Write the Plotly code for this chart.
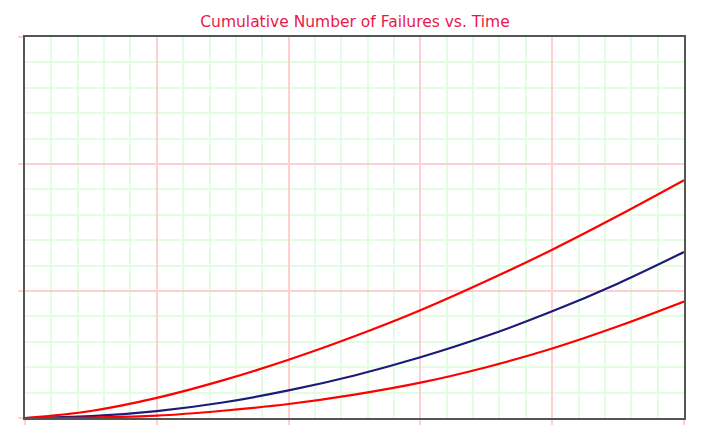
import plotly.graph_objects as go

# Data (x in grid units, y in grid units)
time = [0, 0.5, 1, 1.5, 2, 2.5, 3, 3.5, 4, 4.5, 5]
upper_bound = [0, 0.055, 0.158, 0.296, 0.458, 0.643, 0.848, 1.078, 1.325, 1.592, 1.872]
expected = [0, 0.014, 0.054, 0.122, 0.217, 0.335, 0.478, 0.645, 0.840, 1.060, 1.307]
lower_bound = [0, 0.004, 0.018, 0.057, 0.110, 0.184, 0.278, 0.400, 0.547, 0.722, 0.917]

title_text = "Cumulative Number of Failures vs. Time"

fig = go.Figure()
fig.add_trace(go.Scatter(x=time, y=expected, mode="lines",
                         line=dict(color="#1c1c78", width=2.2, shape="spline"),
                         showlegend=False, hoverinfo="skip"))
fig.add_trace(go.Scatter(x=time, y=lower_bound, mode="lines",
                         line=dict(color="#ff0000", width=2.2, shape="spline"),
                         showlegend=False, hoverinfo="skip"))
fig.add_trace(go.Scatter(x=time, y=upper_bound, mode="lines",
                         line=dict(color="#ff0000", width=2.2, shape="spline"),
                         showlegend=False, hoverinfo="skip"))

major_grid = "#ffd0d0"
minor_grid = "#e3fde3"
axis_line = "#555555"

common = dict(
    showticklabels=False,
    showgrid=True, gridcolor=major_grid, gridwidth=1.5,
    ticks="outside", ticklen=5, tickcolor=major_grid, tickwidth=1.5,
    showline=True, linecolor=axis_line, linewidth=2, mirror=True,
    zeroline=False,
    minor=dict(showgrid=True, gridcolor=minor_grid, gridwidth=1.5),
    fixedrange=True,
)

fig.update_xaxes(range=[0, 5], dtick=1, tick0=0, **common)
fig.update_yaxes(range=[0, 3], dtick=1, tick0=0, **common)
fig.update_xaxes(minor=dict(dtick=0.2))
fig.update_yaxes(minor=dict(dtick=0.2))

fig.update_layout(
    width=710, height=430,
    margin=dict(l=17, r=34, t=29, b=20),
    paper_bgcolor="white", plot_bgcolor="white",
    title=dict(text=title_text, x=347 / 710, xanchor="center",
               y=1 - 14 / 430, yanchor="middle", yref="container",
               font=dict(family="DejaVu Sans", size=15.5, color="#e8194a")),
)

fig.write_html("out.html")
